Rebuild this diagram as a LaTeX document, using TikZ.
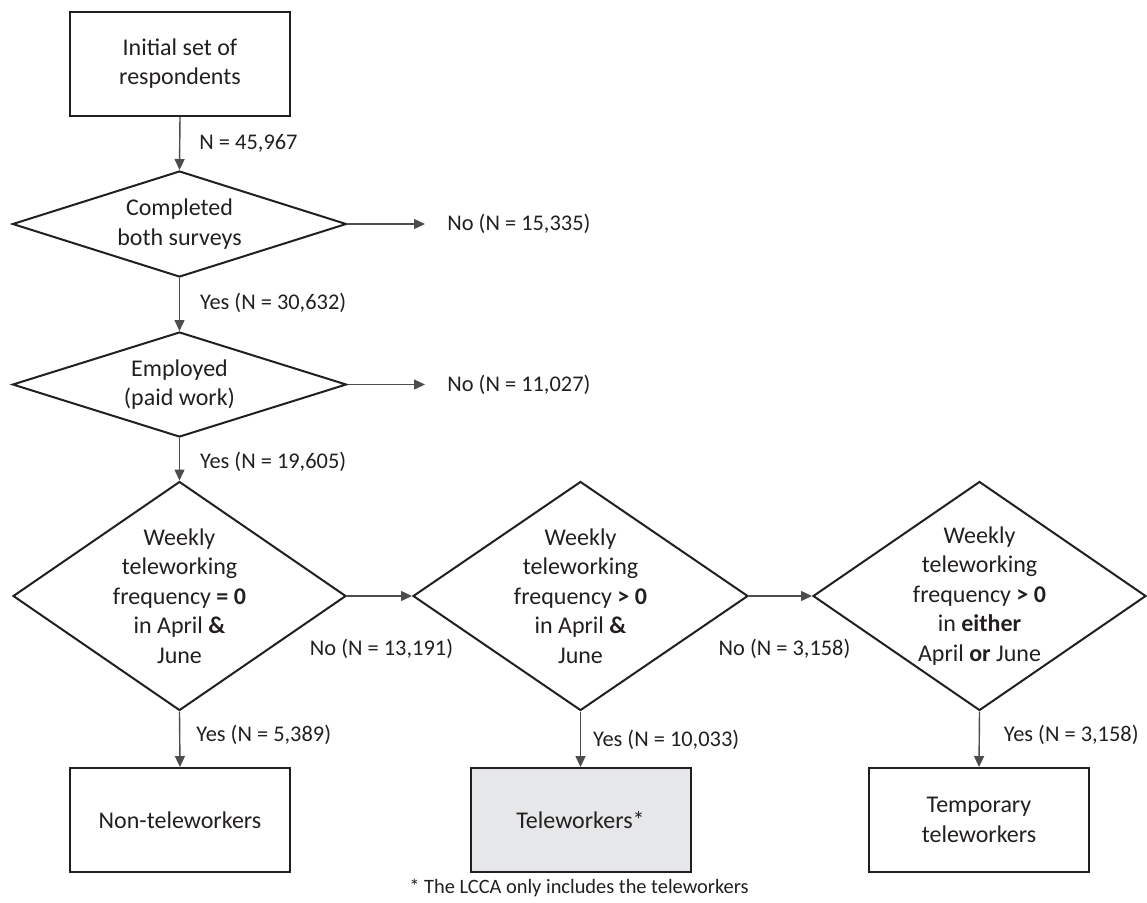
\documentclass[tikz,border=0pt]{standalone}
\usepackage{fontspec}
\setmainfont{Carlito}
\usetikzlibrary{shapes.geometric,arrows.meta,calc}
\definecolor{ink}{HTML}{231F20}
\definecolor{conn}{HTML}{4D4D4F}
\definecolor{boxfill}{HTML}{E6E7E8}
\tikzset{
  procbox/.style={draw=ink, line width=1pt, minimum width=110pt, minimum height=52pt, inner sep=0pt, align=center, font=\fontsize{12}{14.75}\selectfont, text=ink},
  decision/.style={draw=ink, line width=1pt, diamond, inner sep=0pt},
  dtext/.style={align=center, font=\fontsize{12}{14.75}\selectfont, text=ink, inner sep=0pt},
  lbl/.style={font=\fontsize{11.2}{13.5}\selectfont, text=ink, inner sep=0pt},
  conn/.style={draw=conn, line width=0.7pt, -{Triangle[length=5.5pt,width=5pt]}},
}
\begin{document}
\begin{tikzpicture}[x=0.5pt,y=-0.5pt]
\useasboundingbox (0,0) rectangle (1147,902);
% top box
\node[procbox] (start) at (180,63.5) {Initial set of\\respondents};
% diamonds
\node[decision, minimum width=167pt, minimum height=53pt] (d1) at (179.5,224) {};
\node[dtext] (d1t) at (d1.center) {Completed\\both surveys};
\node[decision, minimum width=167pt, minimum height=52.5pt] (d2) at (179.5,384.5) {};
\node[dtext] (d2t) at (d2.center) {Employed\\(paid work)};
\node[decision, minimum width=166.5pt, minimum height=114.5pt] (d3) at (179.5,596) {};
\node[dtext] (d3t) at (d3.center) {Weekly\\teleworking\\frequency \textbf{= 0}\\in April \textbf{\&}\\June};
\node[decision, minimum width=167.5pt, minimum height=114.5pt] (d4) at (580.5,596) {};
\node[dtext] (d4t) at (d4.center) {Weekly\\teleworking\\frequency \textbf{> 0}\\in April \textbf{\&}\\June};
\node[decision, minimum width=166.5pt, minimum height=114.5pt] (d5) at (979.5,596) {};
\node[dtext] (d5t) at (d5.center) {Weekly\\teleworking\\frequency \textbf{> 0}\\in \textbf{either}\\April \textbf{or} June};
% bottom boxes
\node[procbox] (b1) at (180,820) {Non-teleworkers};
\node[procbox, fill=boxfill] (b2) at (580.5,820) {Teleworkers*};
\node[procbox] (b3) at (979,820) {Temporary\\teleworkers};
% exits
\coordinate (x1) at (425,224);
\coordinate (x2) at (425,384.5);
% connectors
\draw[conn] (start.south) -- (d1.north) node[lbl, midway, anchor=west, xshift=9.5pt] (l0) {N = 45,967};
\draw[conn] (d1.east) -- (x1);
\node[lbl, anchor=west] (l1) at (447,224) {No (N = 15,335)};
\draw[conn] (d1.south) -- (d2.north) node[lbl, midway, anchor=west, xshift=10pt, yshift=1pt] (l2) {Yes (N = 30,632)};
\draw[conn] (d2.east) -- (x2);
\node[lbl, anchor=west] (l3) at (447,384.5) {No (N = 11,027)};
\draw[conn] (d2.south) -- (d3.north) node[lbl, midway, anchor=west, xshift=10pt, yshift=-1.5pt] (l4) {Yes (N = 19,605)};
\draw[conn] (d3.east) -- (d4.west);
\node[lbl] (l5) at ($(d3.east)!0.5!(d4.west)+(2,53)$) {No (N = 13,191)};
\draw[conn] (d4.east) -- (d5.west);
\node[lbl] (l6) at ($(d4.east)!0.5!(d5.west)+(4,53)$) {No (N = 3,158)};
\draw[conn] (d3.south) -- (b1.north) node[lbl, midway, anchor=west, xshift=8pt, yshift=2pt] (l7) {Yes (N = 5,389)};
\draw[conn] (d4.south) -- (b2.north) node[lbl, midway, anchor=west, xshift=6pt, yshift=-0.5pt] (l8) {Yes (N = 10,033)};
\draw[conn] (d5.south) -- (b3.north) node[lbl, midway, anchor=west, xshift=12pt, yshift=2pt] (l9) {Yes (N = 3,158)};
% footnote
\node[font=\fontsize{10.2}{12}\selectfont, text=ink, inner sep=0pt] (fn) at (579,888) {* The LCCA only includes the teleworkers};
\end{tikzpicture}
\end{document}
